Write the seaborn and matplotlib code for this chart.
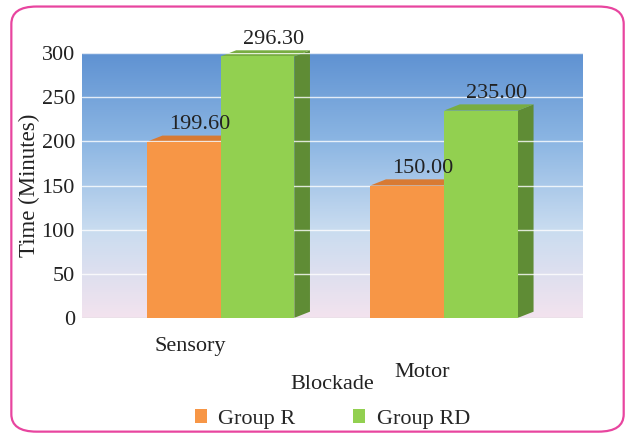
import numpy as np
import pandas as pd
import matplotlib
matplotlib.use("Agg")
import matplotlib.pyplot as plt
import matplotlib.transforms as mtransforms
from matplotlib.patches import FancyBboxPatch, Polygon
from matplotlib.colors import LinearSegmentedColormap
import seaborn as sns

categories = ["Sensory", "Motor"]
groups = ["Group R", "Group RD"]
group_r = [199.60, 150.00]
group_rd = [296.30, 235.00]
yticks = [0, 50, 100, 150, 200, 250, 300]

df = pd.DataFrame({
    "Blockade": categories * 2,
    "Group": [groups[0]] * 2 + [groups[1]] * 2,
    "Time": group_r + group_rd,
})

sns.set_theme(style="white")
plt.rcParams["font.family"] = ["Liberation Serif", "DejaVu Serif"]

FS = 16
front = {"Group R": "#f79646", "Group RD": "#92d050"}
side = {"Group R": "#c8722c", "Group RD": "#5f8c35"}
top = {"Group R": "#d87a33", "Group RD": "#78ad42"}

fig = plt.figure(figsize=(6.3, 4.36), dpi=100)
ax = fig.add_axes([0.13, 0.271, 0.795, 0.607])

# gradient wall
cmap = LinearSegmentedColormap.from_list("wall", ["#f3e3ee", "#c9dcf0", "#8cb6e3", "#5f92d2"])
grad = np.linspace(0, 1, 256).reshape(-1, 1)
ax.imshow(grad, cmap=cmap, aspect="auto", extent=[-0.62, 1.62, 0, 300],
          origin="lower", zorder=0)

sns.barplot(data=df, x="Blockade", y="Time", hue="Group", order=categories,
            hue_order=groups, palette=front, width=0.66, gap=0,
            edgecolor="none", saturation=1, ax=ax, legend=True, zorder=3)

ax.set_xlim(-0.62, 1.62)
ax.set_ylim(0, 300)
ax.set_yticks(yticks)
ax.set_yticklabels([str(t) for t in yticks], fontsize=FS, color="#222222")
ax.yaxis.grid(True, color="white", linewidth=1.0, alpha=0.8)
ax.set_axisbelow(False)
for gl in ax.get_ygridlines():
    gl.set_zorder(1)
for s in ax.spines.values():
    s.set_visible(False)
ax.tick_params(axis="y", length=0, pad=5)

# 3D-ish side and top faces derived from bar patches
dx, dy = 0.07, 7
for patch in list(ax.patches):
    h = patch.get_height()
    if h <= 0:
        continue
    x0 = patch.get_x()
    w = patch.get_width()
    fc = patch.get_facecolor()
    key = "Group R" if abs(fc[0] - 0.969) < 0.05 else "Group RD"
    sideface = Polygon([[x0 + w, 0], [x0 + w + dx, dy], [x0 + w + dx, h + dy], [x0 + w, h]],
                       closed=True, facecolor=side[key], edgecolor="none", zorder=2.5,
                       clip_on=False)
    topface = Polygon([[x0, h], [x0 + dx, h + dy], [x0 + w + dx, h + dy], [x0 + w, h]],
                      closed=True, facecolor=top[key], edgecolor="none", zorder=2.5,
                      clip_on=False)
    ax.add_patch(sideface)
    ax.add_patch(topface)
    ax.text(x0 + w / 2 + dx, h + dy + 2, f"{h:.2f}", ha="center", va="bottom",
            fontsize=FS, color="#222222", zorder=5, clip_on=False)

ax.set_xlabel("Blockade", fontsize=FS, color="#222222")
ax.set_ylabel("Time (Minutes)", fontsize=16.5, color="#222222", labelpad=1)
ax.set_xticks(range(len(categories)))
ax.set_xticklabels(categories, fontsize=FS, color="#222222")
ax.tick_params(axis="x", length=0, pad=14)
ax.xaxis.set_label_coords(0.5, -0.215)
offs = [0, -0.26]
for lab, o in zip(ax.get_xticklabels(), offs):
    lab.set_transform(lab.get_transform() + mtransforms.ScaledTranslation(-0.3 if o == 0 else -0.22, o, fig.dpi_scale_trans))

# floor line
ax.axhline(0, color="#bbbbbb", linewidth=1.0, zorder=2)

leg = ax.legend(loc="upper center", bbox_to_anchor=(0.5, -0.27), ncol=2, frameon=False,
                fontsize=FS, handlelength=0.55, handleheight=0.55, columnspacing=2.6,
                handletextpad=0.5)

# pink rounded frame
frame = FancyBboxPatch((0.018, 0.01), 0.972, 0.975, boxstyle="round,pad=0,rounding_size=0.04",
                       transform=fig.transFigure, facecolor="none", edgecolor="#e8459f",
                       linewidth=1.6, zorder=10)
fig.patches.append(frame)

fig.savefig("out.png", dpi=100)
